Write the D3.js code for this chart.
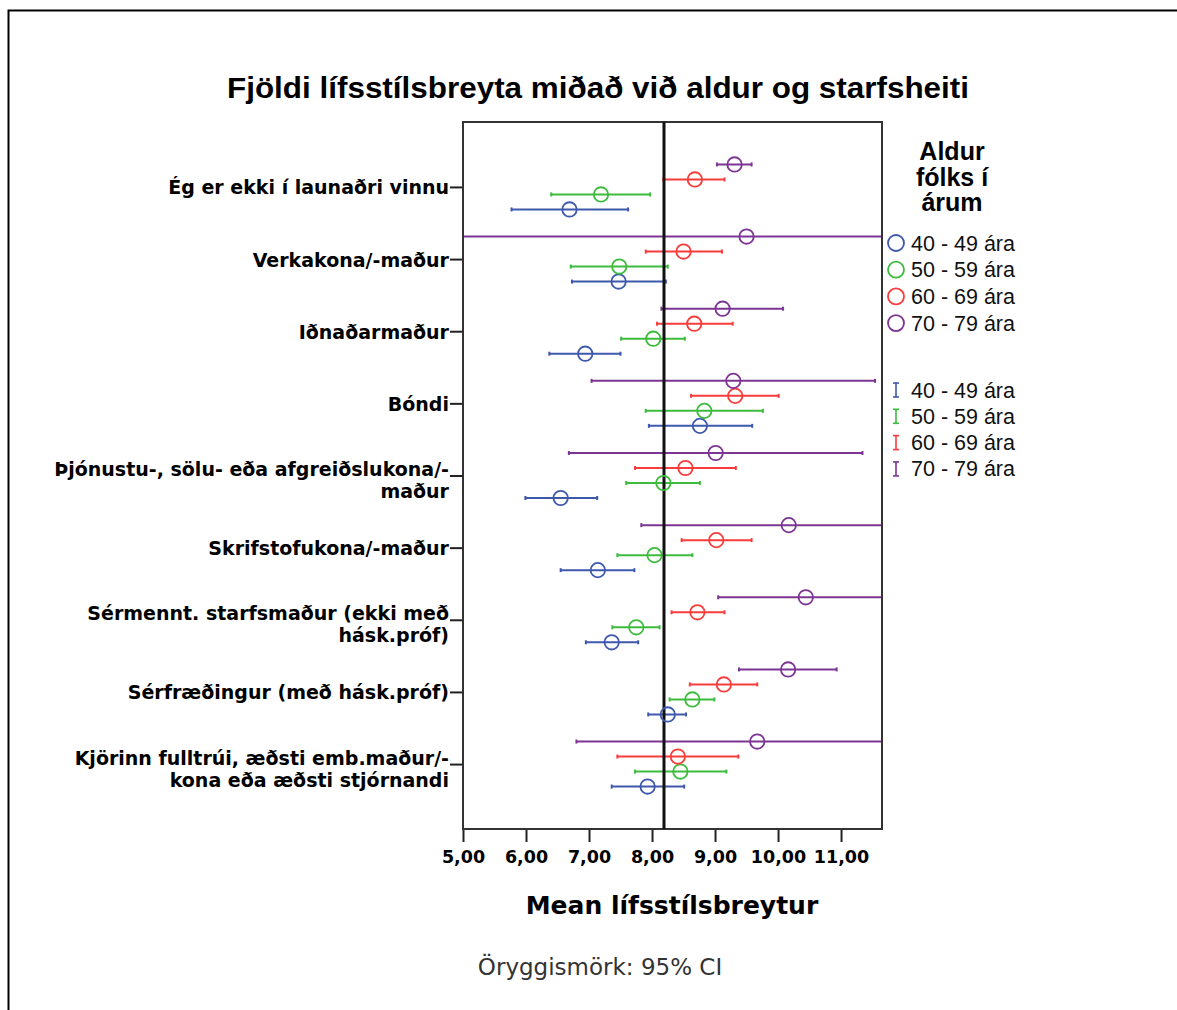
<!DOCTYPE html>
<html><head><meta charset="utf-8">
<script src="https://cdn.jsdelivr.net/npm/d3@7"></script>
<style>body{margin:0;background:#fff}</style>
</head><body>
<script>
const categories = [
  "Ég er ekki í launaðri vinnu",
  "Verkakona/-maður",
  "Iðnaðarmaður",
  "Bóndi",
  "Þjónustu-, sölu- eða afgreiðslukona/-\nmaður",
  "Skrifstofukona/-maður",
  "Sérmennt. starfsmaður (ekki með\nhásk.próf)",
  "Sérfræðingur (með hásk.próf)",
  "Kjörinn fulltrúi, æðsti emb.maður/-\nkona eða æðsti stjórnandi"
];
const seriesNames = ["40 - 49 ára", "50 - 59 ára", "60 - 69 ára", "70 - 79 ára"];
const seriesColors = ["#3e58ac", "#3dbb3d", "#f83c3c", "#7c3593"];
// means per series, in category order
const mean40 = [6.69, 7.47, 6.94, 8.76, 6.55, 7.14, 7.36, 8.25, 7.93];
const low40  = [5.77, 6.73, 6.37, 7.95, 5.99, 6.55, 6.95, 7.94, 7.36];
const high40 = [7.62, 8.22, 7.50, 9.59, 7.13, 7.72, 7.78, 8.54, 8.51];
const mean50 = [7.19, 7.48, 8.02, 8.83, 8.18, 8.04, 7.75, 8.64, 8.45];
const low50  = [6.40, 6.71, 7.51, 7.90, 7.59, 7.45, 7.37, 8.28, 7.73];
const high50 = [7.97, 8.25, 8.52, 9.76, 8.76, 8.64, 8.12, 8.99, 9.18];
const mean60 = [8.68, 8.50, 8.67, 9.32, 8.53, 9.02, 8.72, 9.14, 8.41];
const low60  = [8.18, 7.90, 8.08, 8.62, 7.73, 8.47, 8.31, 8.60, 7.45];
const high60 = [9.15, 9.11, 9.28, 10.01, 9.33, 9.58, 9.15, 9.67, 9.37];
const mean70 = [9.31, 9.50, 9.12, 9.29, 9.01, 10.17, 10.44, 10.16, 9.67];
const low70  = [9.03, 3.50, 8.15, 7.04, 6.68, 7.83, 9.05, 9.38, 6.80];
const high70 = [9.58, 15.50, 10.08, 11.54, 11.34, 12.50, 11.85, 10.93, 12.55];
const xTicks = [5, 6, 7, 8, 9, 10, 11];
const xDomain = [5, 11.65];
const referenceValue = 8.19;
const titleText = "Fjöldi lífsstílsbreyta miðað við aldur og starfsheiti";
const xTitle = "Mean lífsstílsbreytur";
const legendTitle = ["Aldur", "fólks í", "árum"];
const footnote = "Öryggismörk: 95% CI";

const means = [mean40, mean50, mean60, mean70];
const lows = [low40, low50, low60, low70];
const highs = [high40, high50, high60, high70];

const W = 1177, H = 1010;
const svg = d3.select("body").append("svg").attr("width", W).attr("height", H);

svg.append("rect").attr("x", 8.5).attr("y", 10.5).attr("width", 1300).attr("height", 1200)
  .attr("fill", "none").attr("stroke", "#000").attr("stroke-width", 2);

const L = 463, R = 882, T = 122, B = 829;
const x = d3.scaleLinear().domain(xDomain).range([L, R]);
const y = d3.scalePoint().domain(categories).range([T, B]).padding(0.9);
const off = d3.scalePoint().domain([3, 2, 1, 0]).range([-22.5, 22.5]);

const bold = "'DejaVu Sans', Verdana, sans-serif";

svg.append("text").attr("x", 598).attr("y", 98).attr("text-anchor", "middle")
  .attr("font-family", "'Liberation Sans', Arial, sans-serif").attr("font-size", 29)
  .attr("font-weight", "bold").attr("textLength", 742).attr("lengthAdjust", "spacingAndGlyphs")
  .text(titleText);

svg.append("defs").append("clipPath").attr("id", "clip")
  .append("rect").attr("x", L).attr("y", T).attr("width", R - L).attr("height", B - T);

// x axis
const xAxis = svg.append("g").attr("transform", `translate(0,${B})`)
  .call(d3.axisBottom(x).tickValues(xTicks).tickSize(13).tickFormat(d => d3.format(".2f")(d).replace(".", ",")));
xAxis.select(".domain").remove();
xAxis.selectAll(".tick line").attr("stroke", "#222").attr("stroke-width", 2);
xAxis.selectAll(".tick text").attr("font-family", bold).attr("font-weight", "bold")
  .attr("font-size", 17.5).attr("fill", "#000").attr("dy", "1.05em");

// y axis
const yAxis = svg.append("g").attr("transform", `translate(${L},0)`)
  .call(d3.axisLeft(y).tickSize(13).tickFormat(""));
yAxis.select(".domain").remove();
yAxis.selectAll(".tick line").attr("stroke", "#222").attr("stroke-width", 2);
yAxis.selectAll(".tick").each(function(d) {
  const lines = d.split("\n");
  const t = d3.select(this).append("text").attr("text-anchor", "end")
    .attr("font-family", bold).attr("font-weight", "bold").attr("font-size", 19).attr("fill", "#000");
  lines.forEach((ln, i) => {
    const yy = lines.length === 1 ? 7 : (i === 0 ? 0 : 22);
    t.append("tspan").attr("x", -14).attr("y", yy).text(ln);
  });
});

// plot
const g = svg.append("g");
means.forEach((arr, s) => {
  const color = seriesColors[s];
  const grp = g.append("g").attr("clip-path", "url(#clip)");
  categories.forEach((c, i) => {
    const yy = y(c) + off(s);
    grp.append("line").attr("x1", x(lows[s][i])).attr("x2", x(highs[s][i]))
      .attr("y1", yy).attr("y2", yy).attr("stroke", color).attr("stroke-width", 2);
    [lows[s][i], highs[s][i]].forEach(v => {
      grp.append("line").attr("x1", x(v)).attr("x2", x(v)).attr("y1", yy - 2).attr("y2", yy + 2)
        .attr("stroke", color).attr("stroke-width", 2);
    });
  });
});

// frame
svg.append("rect").attr("x", L).attr("y", T).attr("width", R - L).attr("height", B - T)
  .attr("fill", "none").attr("stroke", "#333").attr("stroke-width", 2);
svg.append("line").attr("x1", x(referenceValue)).attr("x2", x(referenceValue))
  .attr("y1", T).attr("y2", B).attr("stroke", "#111").attr("stroke-width", 3);

means.forEach((arr, s) => {
  categories.forEach((c, i) => {
    svg.append("circle").attr("cx", x(arr[i])).attr("cy", y(c) + off(s)).attr("r", 7.2)
      .attr("fill", "none").attr("stroke", seriesColors[s]).attr("stroke-width", 1.8);
  });
});

// axis title & footnote
svg.append("text").attr("x", 672).attr("y", 914).attr("text-anchor", "middle")
  .attr("font-family", bold).attr("font-weight", "bold").attr("font-size", 25).text(xTitle);
svg.append("text").attr("x", 600).attr("y", 975).attr("text-anchor", "middle")
  .attr("font-family", "'DejaVu Sans', sans-serif").attr("font-size", 23).attr("fill", "#333").text(footnote);

// legend
legendTitle.forEach((t, i) => {
  svg.append("text").attr("x", 952).attr("y", 160 + i * 25.5).attr("text-anchor", "middle")
    .attr("font-family", "'Liberation Sans', Arial, sans-serif").attr("font-weight", "bold")
    .attr("font-size", 25).text(t);
});
const legFont = "'Liberation Sans', Arial, sans-serif";
seriesNames.forEach((n, i) => {
  const yy = 243 + i * 26.7;
  svg.append("circle").attr("cx", 896).attr("cy", yy).attr("r", 8)
    .attr("fill", "none").attr("stroke", seriesColors[i]).attr("stroke-width", 1.8);
  svg.append("text").attr("x", 911).attr("y", yy + 7.5).attr("font-family", legFont)
    .attr("font-size", 21.5).attr("fill", "#111").text(n);
});
seriesNames.forEach((n, i) => {
  const yy = 390 + i * 26.3;
  const c = seriesColors[i];
  svg.append("line").attr("x1", 896).attr("x2", 896).attr("y1", yy - 7).attr("y2", yy + 7).attr("stroke", c).attr("stroke-width", 1.6);
  svg.append("line").attr("x1", 893).attr("x2", 899).attr("y1", yy - 7).attr("y2", yy - 7).attr("stroke", c).attr("stroke-width", 1.6);
  svg.append("line").attr("x1", 893).attr("x2", 899).attr("y1", yy + 7).attr("y2", yy + 7).attr("stroke", c).attr("stroke-width", 1.6);
  svg.append("text").attr("x", 911).attr("y", yy + 7.5).attr("font-family", legFont)
    .attr("font-size", 21.5).attr("fill", "#111").text(n);
});
</script>
</body></html>
